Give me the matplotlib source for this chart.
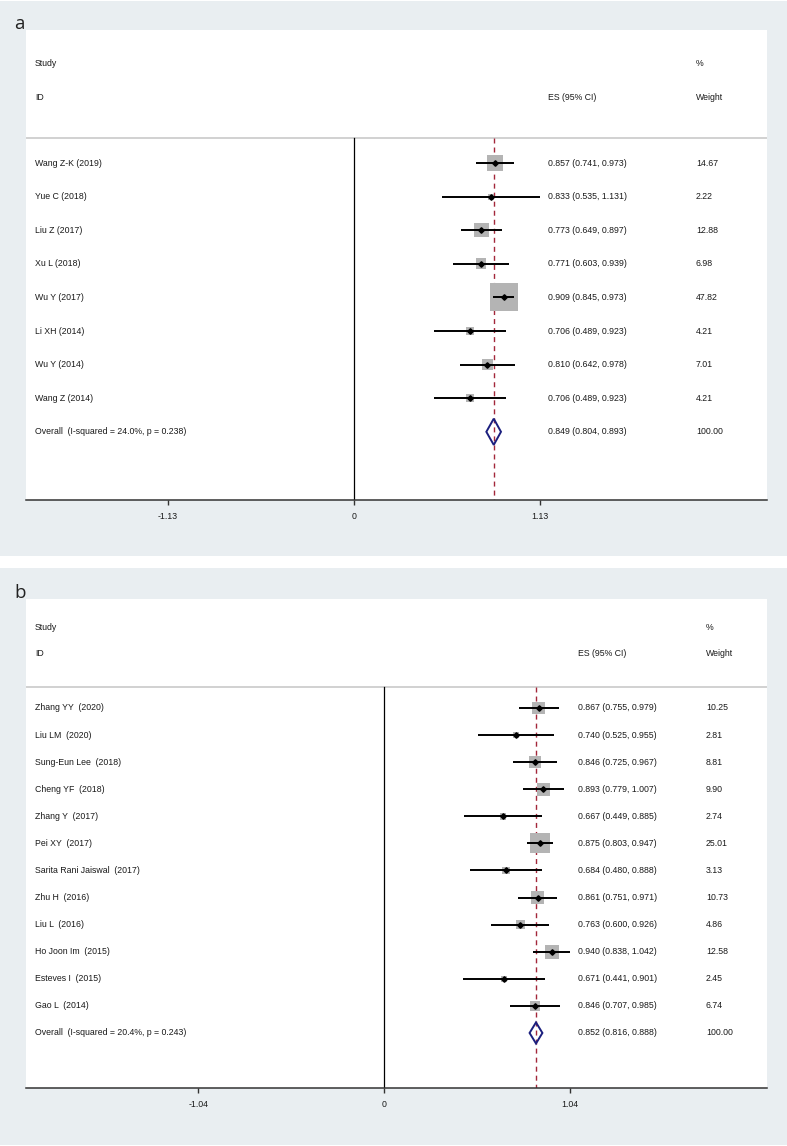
import numpy as np
import matplotlib
matplotlib.use("Agg")
import matplotlib.pyplot as plt
from matplotlib import transforms
from matplotlib.patches import Rectangle

plt.rcParams['font.family'] = ['Liberation Sans', 'DejaVu Sans']

# ---------------- data: panel a ----------------
studies_a = ["Wang Z-K (2019)", "Yue C (2018)", "Liu Z (2017)", "Xu L (2018)",
             "Wu Y (2017)", "Li XH (2014)", "Wu Y (2014)", "Wang Z (2014)"]
es_a = [0.857, 0.833, 0.773, 0.771, 0.909, 0.706, 0.810, 0.706]
lo_a = [0.741, 0.535, 0.649, 0.603, 0.845, 0.489, 0.642, 0.489]
hi_a = [0.973, 1.131, 0.897, 0.939, 0.973, 0.923, 0.978, 0.923]
w_a = [14.67, 2.22, 12.88, 6.98, 47.82, 4.21, 7.01, 4.21]
overall_a = [0.849, 0.804, 0.893]
overall_w_a = 100.00
overall_label_a = "Overall  (I-squared = 24.0%, p = 0.238)"
ticks_a = [-1.13, 0, 1.13]
ticklabels_a = ["-1.13", "0", "1.13"]

# ---------------- data: panel b ----------------
studies_b = ["Zhang YY  (2020)", "Liu LM  (2020)", "Sung-Eun Lee  (2018)", "Cheng YF  (2018)",
             "Zhang Y  (2017)", "Pei XY  (2017)", "Sarita Rani Jaiswal  (2017)", "Zhu H  (2016)",
             "Liu L  (2016)", "Ho Joon Im  (2015)", "Esteves I  (2015)", "Gao L  (2014)"]
es_b = [0.867, 0.740, 0.846, 0.893, 0.667, 0.875, 0.684, 0.861, 0.763, 0.940, 0.671, 0.846]
lo_b = [0.755, 0.525, 0.725, 0.779, 0.449, 0.803, 0.480, 0.751, 0.600, 0.838, 0.441, 0.707]
hi_b = [0.979, 0.955, 0.967, 1.007, 0.885, 0.947, 0.888, 0.971, 0.926, 1.042, 0.901, 0.985]
w_b = [10.25, 2.81, 8.81, 9.90, 2.74, 25.01, 3.13, 10.73, 4.86, 12.58, 2.45, 6.74]
overall_b = [0.852, 0.816, 0.888]
overall_w_b = 100.00
overall_label_b = "Overall  (I-squared = 20.4%, p = 0.243)"
ticks_b = [-1.04, 0, 1.04]
ticklabels_b = ["-1.04", "0", "1.04"]

# ---------------- layout ----------------
W, H = 787, 1146
fig = plt.figure(figsize=(W / 100, H / 100), dpi=100)
fig.patch.set_facecolor("white")

BG = "#E9EEF1"
TXT = "#1a1a1a"
FS = 6.3
BOX = "#B4B4B4"
RED = "#A3273A"
NAVY = "#1B1F7E"


def fx(px):
    return px / W


def fy(py):
    return 1 - py / H


# panel backgrounds
fig.patches.append(Rectangle((0, fy(556)), 1, (556 - 1) / H, transform=fig.transFigure,
                             facecolor=BG, edgecolor="none", zorder=-10))
fig.patches.append(Rectangle((0, fy(1145)), 1, (1145 - 568) / H, transform=fig.transFigure,
                             facecolor=BG, edgecolor="none", zorder=-10))


def draw_panel(letter, studies, es, lo, hi, w, overall, overall_w, overall_label,
               ticks, ticklabels, g):
    left, right, top, bot = 26, 767, g["top"], g["bot"]
    ax = fig.add_axes([fx(left), fy(bot), fx(right) - fx(left), (bot - top) / H])
    ax.set_zorder(1)
    ax.set_facecolor("white")
    zero, sc = g["zero"], g["scale"]
    ax.set_xlim((left - zero) / sc, (right - zero) / sc)
    r0, step = g["row0"], g["step"]

    def row(py):
        return (py - r0) / step

    ax.set_ylim(row(bot), row(top))
    trans = transforms.blended_transform_factory(ax.transAxes, ax.transData)

    def xa(px):
        return (px - left) / (right - left)

    n = len(studies)
    rows = np.arange(n)
    ov_row = n
    sep = row(g["sep"])
    bottom_row = row(bot)

    # headers
    ax.text(xa(35), row(g["study_y"]), "Study", transform=trans, fontsize=FS, color=TXT, va="center")
    ax.text(xa(35), row(g["id_y"]), "ID", transform=trans, fontsize=FS, color=TXT, va="center")
    ax.text(xa(g["es_x"]), row(g["id_y"]), "ES (95% CI)", transform=trans, fontsize=FS, color=TXT, va="center")
    ax.text(xa(g["wt_x"]), row(g["study_y"]), "%", transform=trans, fontsize=FS, color=TXT, va="center")
    ax.text(xa(g["wt_x"]), row(g["id_y"]), "Weight", transform=trans, fontsize=FS, color=TXT, va="center")

    ax.axhline(sep, color="#C9C9C9", lw=1.2, zorder=1)

    # null line and overall dashed line
    ax.plot([0, 0], [sep, bottom_row], color="black", lw=0.9, zorder=1)
    ax.plot([overall[0], overall[0]], [sep, bottom_row], color=RED, lw=1.0,
            linestyle=(0, (3.6, 2.9)), zorder=1)

    # study rows
    sizes = (g["k"] * np.sqrt(np.array(w)) * 0.72) ** 2
    ax.scatter(es, rows, marker="s", s=sizes, color=BOX, linewidths=0, zorder=2)
    ax.hlines(rows, lo, hi, color="black", lw=1.4, zorder=3)
    ax.plot(es, rows, "D", ms=2.8, color="black", zorder=4)
    for i in range(n):
        ax.text(xa(35), rows[i], studies[i], transform=trans, fontsize=FS, color=TXT, va="center")
        ax.text(xa(g["es_x"]), rows[i], f"{es[i]:.3f} ({lo[i]:.3f}, {hi[i]:.3f})",
                transform=trans, fontsize=FS, color=TXT, va="center")
        ax.text(xa(g["wt_x"]), rows[i], f"{w[i]:.2f}", transform=trans, fontsize=FS,
                color=TXT, va="center")

    # overall diamond
    hh = 0.39
    ax.fill([overall[1], overall[0], overall[2], overall[0], overall[1]],
            [ov_row, ov_row - hh, ov_row, ov_row + hh, ov_row],
            fill=False, edgecolor=NAVY, lw=1.4, zorder=5)
    ax.text(xa(35), ov_row, overall_label, transform=trans, fontsize=FS, color=TXT, va="center")
    ax.text(xa(g["es_x"]), ov_row, f"{overall[0]:.3f} ({overall[1]:.3f}, {overall[2]:.3f})",
            transform=trans, fontsize=FS, color=TXT, va="center")
    ax.text(xa(g["wt_x"]), ov_row, f"{overall_w:.2f}", transform=trans, fontsize=FS,
            color=TXT, va="center")

    # axis
    for s in ["left", "top", "right"]:
        ax.spines[s].set_visible(False)
    ax.spines["bottom"].set_color("#333333")
    ax.spines["bottom"].set_linewidth(1.1)
    ax.set_yticks([])
    ax.set_xticks(ticks)
    ax.set_xticklabels(ticklabels)
    ax.tick_params(axis="x", length=3.8, width=1.0, color="#333333", pad=4.5,
                   labelsize=FS, labelcolor=TXT, direction="out")

    fig.text(fx(14), fy(top - 1), letter, fontsize=13.5, color="#222222", va="baseline",
             family=["Open Sans", "DejaVu Sans"], zorder=2)
    return ax


geom_a = dict(top=30, bot=500, zero=354, scale=164.6, row0=163, step=33.6,
              study_y=63, id_y=97, sep=138, es_x=548, wt_x=696, k=4.05)
geom_b = dict(top=599, bot=1088, zero=384, scale=178.4, row0=708, step=27.08,
              study_y=627, id_y=653, sep=687, es_x=578, wt_x=706, k=4.0)

draw_panel("a", studies_a, es_a, lo_a, hi_a, w_a, overall_a, overall_w_a, overall_label_a,
           ticks_a, ticklabels_a, geom_a)
draw_panel("b", studies_b, es_b, lo_b, hi_b, w_b, overall_b, overall_w_b, overall_label_b,
           ticks_b, ticklabels_b, geom_b)

fig.savefig("out.png", dpi=100, facecolor=fig.get_facecolor())
